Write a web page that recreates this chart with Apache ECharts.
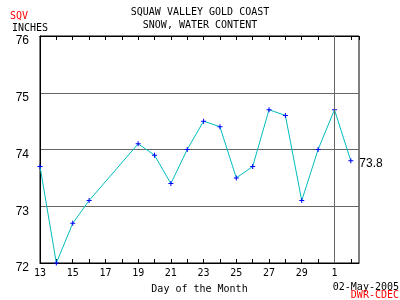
<!DOCTYPE html>
<html><head><meta charset="utf-8">
<script src="https://cdn.jsdelivr.net/npm/echarts@6/dist/echarts.min.js"></script>
<style>html,body{margin:0;padding:0;background:#fff}#c{width:400px;height:300px}</style>
</head><body><div id="c"></div>
<script>
// Days of month (Apr 13 .. May 2; 31 = May 1, 32 = May 2), 17 and 18 missing
var days = [13,14,15,16,19,20,21,22,23,24,25,26,27,28,29,30,31,32];
var values = [73.7,72.0,72.7,73.1,74.1,73.9,73.4,74.0,74.5,74.4,73.5,73.7,74.7,74.6,73.1,74.0,74.7,73.8];
var yTicks = [72,73,74,75,76];
var markDay = 31; // May 1

var mono = 'DejaVu Sans Mono';
var sans = 'Liberation Sans';

var data = days.map(function(d,i){
  var item = {value:[d, values[i]]};
  if (i === days.length-1) {
    item.label = {show:true, position:'right', distance:6, offset:[0,3], formatter:function(p){return p.value[1].toFixed(1);},
      color:'#000', fontFamily:sans, fontSize:12};
  }
  return item;
});
function dayLabel(v){
  if (Math.abs(v - Math.round(v))>1e-6) return '';
  if ((v-13)%2!==0) return '';
  return String(v>30 ? v-30 : v);
}
function txt(color){ return {fontFamily:mono,fontSize:10,fontWeight:'normal',color:color}; }
var chart = echarts.init(document.getElementById('c'), null, {renderer:'canvas'});
chart.setOption({
  animation:false,
  backgroundColor:'#fff',
  title:[
    {text:'SQUAW VALLEY GOLD COAST', left:'center', top:7, padding:0, textStyle:txt('#000')},
    {text:'SNOW, WATER CONTENT', left:'center', top:20, padding:0, textStyle:txt('#000')},
    {text:'SQV', left:10, top:11, padding:0, textStyle:txt('#ff0000')},
    {text:'INCHES', left:12, top:23, padding:0, textStyle:txt('#000')},
    {text:'02-May-2005', right:1, top:282, padding:0, textStyle:txt('#000')},
    {text:'DWR-CDEC', right:1, top:290, padding:0, textStyle:txt('#ff0000')}
  ],
  grid:{left:40, right:41, top:36, bottom:37, show:true, borderColor:'#000', borderWidth:1, backgroundColor:'#fff'},
  xAxis:[
    {type:'value', position:'bottom', min:13, max:32.5, interval:1,
     axisLine:{show:true, lineStyle:{color:'#000'}},
     axisTick:{show:true, inside:true, length:4, lineStyle:{color:'#000'}},
     axisLabel:{formatter:dayLabel, fontFamily:mono, fontSize:10, color:'#000', margin:5, showMaxLabel:false},
     splitLine:{show:false},
     name:'Day of the Month', nameLocation:'middle', nameGap:21,
     nameTextStyle:{fontFamily:mono, fontSize:10, color:'#000'}},
    {type:'value', position:'top', min:13, max:32.5, interval:1,
     axisLine:{show:true, lineStyle:{color:'#000'}},
     axisTick:{show:true, inside:true, length:4, lineStyle:{color:'#000'}},
     axisLabel:{show:false}, splitLine:{show:false}}
  ],
  yAxis:{type:'value', min:yTicks[0], max:yTicks[yTicks.length-1], interval:1,
    axisLine:{show:true, lineStyle:{color:'#000'}},
    axisTick:{show:false},
    axisLabel:{fontFamily:sans, fontSize:12, color:'#000', margin:11, verticalAlign:'top', padding:[-1,0,0,0]},
    splitLine:{show:true, showMinLine:false, showMaxLine:false, lineStyle:{color:'#666', width:1}}
  },
  series:[{
    type:'line', xAxisIndex:0, data:data,
    lineStyle:{color:'#00bcbc', width:1},
    symbol:'path://M2,0H3V5H2Z M0,2H5V3H0Z', symbolSize:5, showAllSymbol:true,
    itemStyle:{color:'#0000ff'},
    markLine:{silent:true, symbol:['none','none'], label:{show:false},
      lineStyle:{color:'#666', width:1, type:'solid'},
      data:[{xAxis:markDay}]}
  }]
});
</script></body></html>
